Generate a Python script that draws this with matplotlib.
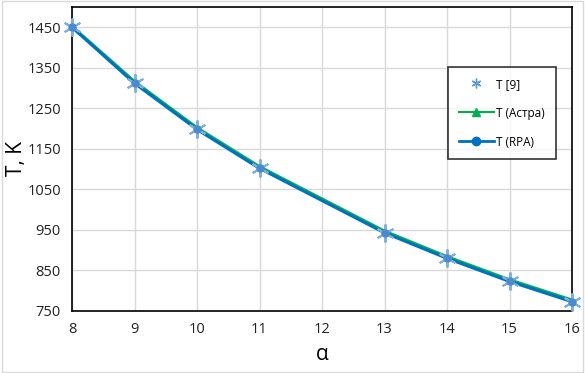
import matplotlib
matplotlib.use('Agg')
import matplotlib.pyplot as plt
from matplotlib.lines import Line2D

alpha = [8, 9, 10, 11, 13, 14, 15, 16]
t_ref = [1450, 1312, 1198, 1102, 943, 880, 823, 773]
t_astra = [1452, 1316, 1202, 1106, 947, 884, 827, 777]
t_rpa = [1450, 1312, 1198, 1102, 943, 880, 823, 773]

plt.rcParams['font.family'] = ['Open Sans', 'DejaVu Sans']

fig = plt.figure(figsize=(5.85, 3.73), dpi=100)
ax = fig.add_axes([72 / 585, 1 - 311 / 373, 500 / 585, 304 / 373])

ax.plot(alpha, t_astra, color='#00B050', lw=2.2, marker='^', ms=4, zorder=3)
ax.plot(alpha, t_rpa, color='#0070C0', lw=2.2, marker='o', ms=4, zorder=4)
ax.plot(alpha, t_ref, ls='none', marker=(6, 2, 0), ms=13, mew=1.4,
        color='#7FAEE0', zorder=5, clip_on=False)
ax.plot(alpha, t_ref, ls='none', marker='o', ms=5, color='#4A8AD0',
        zorder=5, clip_on=False)

ax.set_xlim(8, 16)
ax.set_ylim(750, 1500)
ax.set_xticks(range(8, 17))
ax.set_yticks(range(750, 1451, 100))
ax.grid(True, color='#d9d9d9', lw=1)
ax.set_axisbelow(True)
for s in ax.spines.values():
    s.set_color('black')
    s.set_linewidth(1.2)
ax.tick_params(length=0, labelsize=10.5, pad=8, colors='#222222')

ax.set_ylabel('T, K', fontsize=15, labelpad=0)
ax.set_xlabel('α', fontsize=15, labelpad=5)

handles = [
    Line2D([], [], ls='none', marker=(6, 2, 0), ms=7, mew=1, color='#5B9BD5'),
    Line2D([], [], color='#00B050', lw=1.5, marker='^', ms=6),
    Line2D([], [], color='#0070C0', lw=2, marker='o', ms=6),
]
leg = ax.legend(handles, ['T [9]', 'T (Астра)', 'T (RPA)'],
                loc='upper left', bbox_to_anchor=(376 / 500, 1 - 60 / 304),
                fontsize=8.5, frameon=True, fancybox=False, labelspacing=1.35,
                handlelength=3.0, handletextpad=0.2, borderpad=0.9,
                borderaxespad=0)
leg.get_frame().set_edgecolor('black')
leg.get_frame().set_linewidth(1.2)

fig.patches.append(plt.Rectangle((0.003, 0.003), 0.994, 0.994, transform=fig.transFigure,
                                 fill=False, edgecolor='#d9d9d9', lw=1))

fig.savefig('out.png', dpi=100)
